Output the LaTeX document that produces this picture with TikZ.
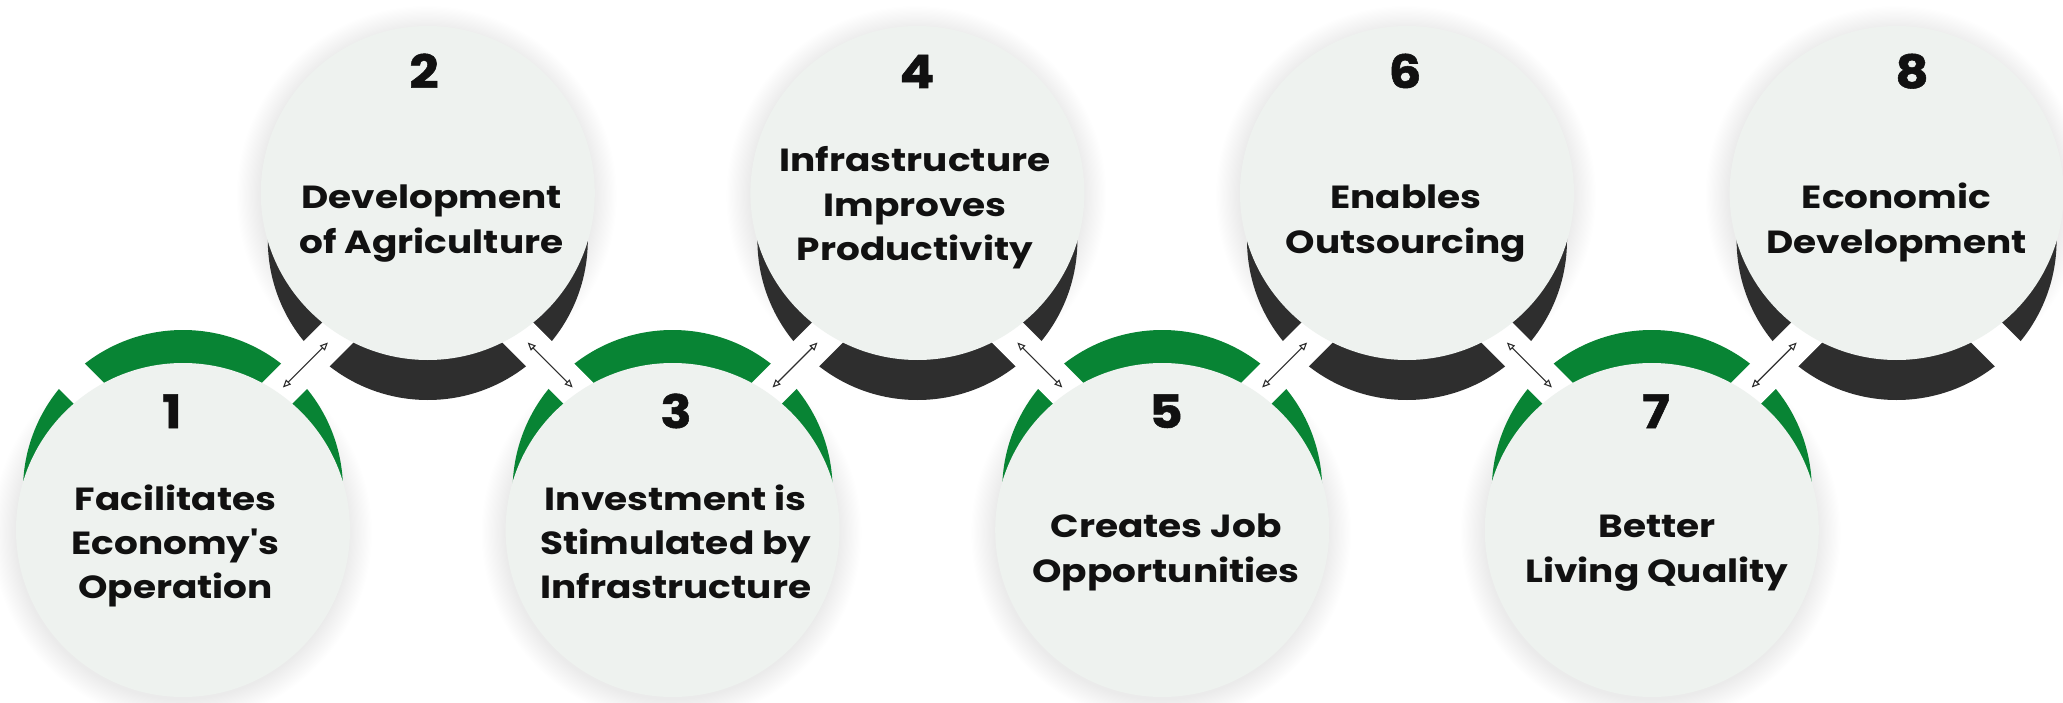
\documentclass[tikz,border=0pt]{standalone}
\usepackage{fontspec}
\setmainfont{Poppins}[FakeStretch=1.17]
\newfontfamily\numfont{Poppins}[FakeStretch=1.12, BoldFeatures={FakeBold=1.2}]
\usetikzlibrary{arrows.meta}
\definecolor{ringgreen}{RGB}{8,132,52}
\definecolor{ringdark}{RGB}{46,46,46}
\definecolor{disccol}{RGB}{238,242,239}
\definecolor{ink}{RGB}{17,17,17}
\tikzset{
  disc/.style={circle, fill=disccol, minimum size=334pt, inner sep=0pt, draw=none},
  band/.style={white, line width=36pt},
  conn/.style={draw=ringdark, line width=1.1pt, {Triangle[open,length=8pt,width=7pt]}-{Triangle[open,length=8pt,width=7pt]}},
  lbl/.style={font=\fontsize{32}{40}\selectfont\bfseries, text=ink, anchor=base, inner sep=0pt},
  num/.style={font=\numfont\fontsize{46}{46}\selectfont\bfseries, text=ink, anchor=base, inner sep=0pt}
}
\begin{document}
\begin{tikzpicture}[x=1pt,y=-1pt]
\useasboundingbox (0,0) rectangle (2063,703);
\fill[white] (0,0) rectangle (2063,703);
\coordinate (p1) at (183,530);
\coordinate (p2) at (427.8,193);
\coordinate (p3) at (672.6,530);
\coordinate (p4) at (917.4,193);
\coordinate (p5) at (1162.2,530);
\coordinate (p6) at (1407,193);
\coordinate (p7) at (1651.8,530);
\coordinate (p8) at (1896.6,193);
% shadows
\foreach \i in {1,...,8}{
  \foreach \k in {1,...,20}{
    \fill[black, opacity=0.0045] ([yshift=-3pt,xshift=-1pt]p\i) circle ({166pt+\k*1.2pt});
  }
}
% rings
\foreach \i in {1,3,5,7}{ \fill[ringgreen] ([yshift=40pt]p\i) circle (160pt); }
\foreach \i in {2,4,6,8}{ \fill[ringdark] ([yshift=-47pt]p\i) circle (160pt); }
% white gaps
\foreach \j in {0,...,8}{
  \pgfmathsetmacro\mx{183+(\j-0.5)*244.8}
  \pgfmathsetmacro\s{isodd(\j) ? 1 : -1}
  \draw[band] (\mx-90, 365+90*\s) -- (\mx+90, 365-90*\s);
}
% discs
\foreach \i in {1,...,8}{ \node[disc] (c\i) at (p\i) {}; }
% connectors
\foreach \j in {1,...,7}{
  \pgfmathsetmacro\mx{183+(\j-0.5)*244.8}
  \pgfmathsetmacro\s{isodd(\j) ? 1 : -1}
  \coordinate (as\j) at (\mx-22.5, 365+22.5*\s);
  \coordinate (ae\j) at (\mx+22.5, 365-22.5*\s);
  \draw[conn] (as\j) -- (ae\j);
}
% numbers
\node[num] (n1) at (172,428) {1};
\node[num] (n2) at (424,88) {2};
\node[num] (n3) at (676,428) {3};
\node[num] (n4) at (917,88) {4};
\node[num] (n5) at (1166,428) {5};
\node[num] (n6) at (1405,88) {6};
\node[num] (n7) at (1656,428) {7};
\node[num] (n8) at (1912,88) {8};
% texts
\node[lbl] (t1a) at (175.5,510) {Facilitates};
\node[lbl] (t1b) at (175.5,554) {\addfontfeature{Ligatures=TeXOff}Economy's};
\node[lbl] (t1c) at (175.5,598) {Operation};
\node[lbl] (t2a) at (431.5,209) {Development};
\node[lbl] (t2b) at (431.5,254) {of Agriculture};
\node[lbl] (t3a) at (675.8,510) {Investment is};
\node[lbl] (t3b) at (675.8,554) {Stimulated by};
\node[lbl] (t3c) at (675.8,598) {Infrastructure};
\node[lbl] (t4a) at (915,172) {Infrastructure};
\node[lbl] (t4b) at (915,217) {Improves};
\node[lbl] (t4c) at (915,261) {Productivity};
\node[lbl] (t5a) at (1166,537) {Creates Job};
\node[lbl] (t5b) at (1166,582) {Opportunities};
\node[lbl] (t6a) at (1406,209) {Enables};
\node[lbl] (t6b) at (1406,254) {Outsourcing};
\node[lbl] (t7a) at (1657,537) {Better};
\node[lbl] (t7b) at (1657,582) {Living Quality};
\node[lbl] (t8a) at (1896.5,209) {Economic};
\node[lbl] (t8b) at (1896.5,254) {Development};
\end{tikzpicture}
\end{document}
